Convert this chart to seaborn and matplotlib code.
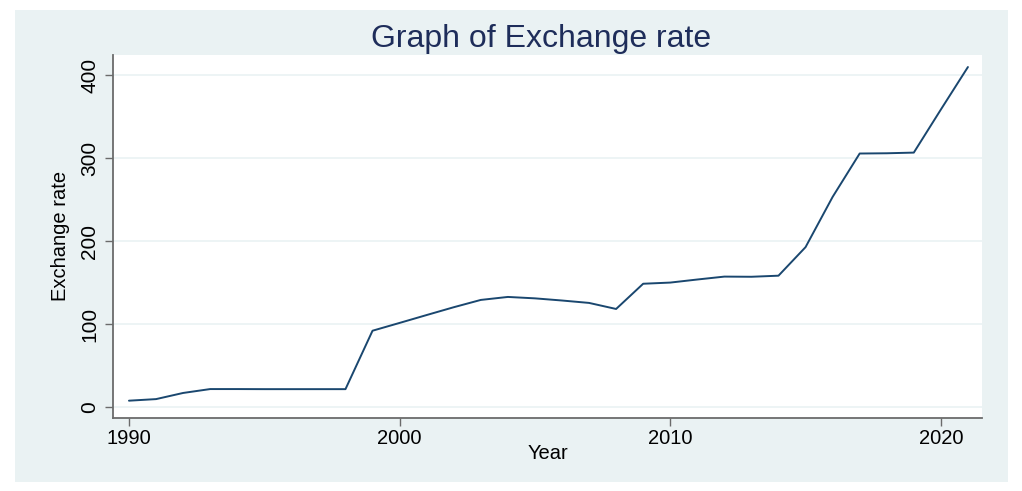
import matplotlib
matplotlib.use('Agg')
import matplotlib.pyplot as plt
from matplotlib.patches import Rectangle
import seaborn as sns
import pandas as pd

# exchange rate by year
years = list(range(1990, 2022))
rate = [8.0, 9.9, 17.3, 22.0, 22.0, 21.9, 21.9, 21.9, 21.9, 92.3,
        101.7, 111.2, 120.6, 129.4, 133.0, 131.3, 128.7, 125.8, 118.5, 148.9,
        150.3, 154.0, 157.5, 157.3, 158.6, 193.0, 253.5, 305.8, 306.1, 306.9,
        358.8, 410.0]
yticks = [0, 100, 200, 300, 400]
xticks = [1990, 2000, 2010, 2020]

df = pd.DataFrame({'Year': years, 'Exchange rate': rate})

sns.set_style('white')
plt.rcParams['font.family'] = ['Liberation Sans', 'DejaVu Sans']
plt.rcParams['text.color'] = 'black'
plt.rcParams['axes.labelcolor'] = 'black'
plt.rcParams['xtick.color'] = 'black'
plt.rcParams['ytick.color'] = 'black'

W, H = 1022, 491
fig = plt.figure(figsize=(W / 100, H / 100), dpi=100)
fig.patch.set_facecolor('white')
# stata-like panel
fig.patches.append(Rectangle((15 / W, 1 - 482 / H), (1008 - 15) / W, (482 - 10) / H,
                             transform=fig.transFigure, facecolor='#eaf2f3',
                             edgecolor='none', zorder=-10))

ax = fig.add_axes([113 / W, 1 - 417.7 / H, (982 - 113) / W, (417.7 - 55) / H])
ax.set_facecolor('white')
ax.set_zorder(5)

sns.lineplot(data=df, x='Year', y='Exchange rate', ax=ax, color='#1a476f',
             linewidth=1.4, zorder=3)

ax.set_xlim(1989.41, 2021.52)
ax.set_ylim(-12.5, 424.5)
ax.set_xticks(xticks)
ax.set_yticks(yticks)
for v in yticks:
    ax.axhline(v, color='#eaf2f3', linewidth=1.2, zorder=1)

for s in ['top', 'right']:
    ax.spines[s].set_visible(False)
for s in ['left', 'bottom']:
    ax.spines[s].set_color('#6b6b6b')
    ax.spines[s].set_linewidth(1.3)

ax.tick_params(axis='both', direction='out', length=6, width=1, color='#6b6b6b',
               labelcolor='black', left=True, bottom=True)
ax.tick_params(axis='x', labelsize=14.5, pad=2)
ax.tick_params(axis='y', labelsize=15, pad=4)
for lab in ax.get_yticklabels():
    lab.set_rotation(90)
    lab.set_va('center')

ax.set_xlabel('Year', fontsize=14.5, labelpad=-3)
ax.set_ylabel('Exchange rate', fontsize=14.5, labelpad=7)

fig.text(541 / W, 1 - 39 / H, 'Graph of Exchange rate', ha='center', va='center',
         fontsize=23, color='#1e2d5a')

fig.savefig('out.png', dpi=100, facecolor='white')
